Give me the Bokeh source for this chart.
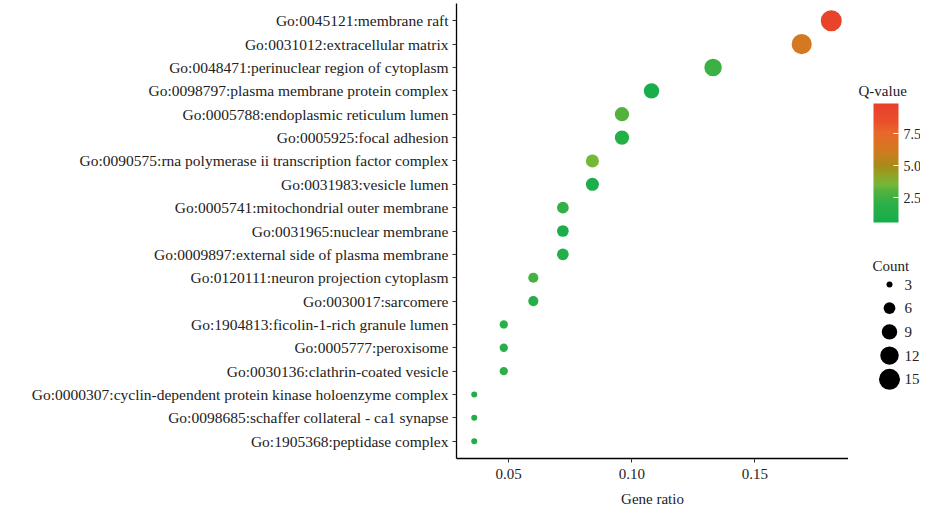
import numpy as np
from bokeh.plotting import figure
from bokeh.layouts import row
from bokeh.models import (FactorRange, Range1d, LinearColorMapper, ColorBar,
                          FixedTicker, ColumnDataSource, NumeralTickFormatter)
from bokeh.embed import file_html
from bokeh.resources import INLINE
from bokeh.core.properties import value

# ---------------- data ----------------
terms = [
    "Go:0045121:membrane raft",
    "Go:0031012:extracellular matrix",
    "Go:0048471:perinuclear region of cytoplasm",
    "Go:0098797:plasma membrane protein complex",
    "Go:0005788:endoplasmic reticulum lumen",
    "Go:0005925:focal adhesion",
    "Go:0090575:rna polymerase ii transcription factor complex",
    "Go:0031983:vesicle lumen",
    "Go:0005741:mitochondrial outer membrane",
    "Go:0031965:nuclear membrane",
    "Go:0009897:external side of plasma membrane",
    "Go:0120111:neuron projection cytoplasm",
    "Go:0030017:sarcomere",
    "Go:1904813:ficolin-1-rich granule lumen",
    "Go:0005777:peroxisome",
    "Go:0030136:clathrin-coated vesicle",
    "Go:0000307:cyclin-dependent protein kinase holoenzyme complex",
    "Go:0098685:schaffer collateral - ca1 synapse",
    "Go:1905368:peptidase complex",
]
gene_ratio = [0.181, 0.169, 0.133, 0.108, 0.096, 0.096, 0.084, 0.084, 0.072,
              0.072, 0.072, 0.060, 0.060, 0.048, 0.048, 0.048, 0.036, 0.036, 0.036]
counts = [15, 14, 11, 9, 8, 8, 7, 7, 6, 6, 6, 5, 5, 4, 4, 4, 3, 3, 3]
qvalues = [9.5, 6.3, 2.4, 0.8, 3.0, 1.5, 3.5, 1.0, 2.2, 1.0, 1.4, 2.6, 1.5,
           1.8, 1.8, 2.0, 1.2, 1.2, 1.2]
legend_counts = [3, 6, 9, 12, 15]
cbar_ticks = [2.5, 5.0, 7.5]
x_ticks = [0.05, 0.10, 0.15]

FONT = "Liberation Serif"
TXT = "#222222"

# ---------------- colour palette (green -> olive -> orange -> red) ----------------
Q_LOW, Q_HIGH = 0.55, 9.85
stop_vals = [0.55, 2.0, 3.0, 3.5, 4.2, 5.0, 6.2, 7.5, 8.5, 9.85]
stop_cols = ["#16ad4b", "#2bb048", "#55b13e", "#74b838", "#8fa526", "#a88b1a",
             "#d27a20", "#e8692a", "#ea4e2c", "#e8402b"]

def _hex2rgb(h):
    h = h.lstrip("#")
    return [int(h[i:i + 2], 16) for i in (0, 2, 4)]

_rgb = np.array([_hex2rgb(c) for c in stop_cols], float)
_vals = np.linspace(Q_LOW, Q_HIGH, 256)
palette = ["#%02x%02x%02x" % tuple(int(round(np.interp(v, stop_vals, _rgb[:, k])))
                                   for k in range(3)) for v in _vals]
mapper = LinearColorMapper(palette=palette, low=Q_LOW, high=Q_HIGH)

# ---------------- size scale (area-linear, like ggplot) ----------------
D_MIN, D_MAX, C_MIN, C_MAX = 6.0, 21.0, 3, 15
def size_scale(c):
    c = np.asarray(c, float)
    return np.sqrt(D_MIN ** 2 + (c - C_MIN) / (C_MAX - C_MIN) * (D_MAX ** 2 - D_MIN ** 2))

src = ColumnDataSource(dict(term=terms, ratio=gene_ratio, q=qvalues,
                            size=size_scale(counts)))

# ---------------- main plot ----------------
H = 509
FR_LEFT, FR_RIGHT, FR_TOP, FR_BOTTOM = 456, 848, 3, 458
p = figure(width=FR_RIGHT, height=H, output_backend="svg", toolbar_location=None,
           y_range=FactorRange(*terms[::-1], range_padding=0.24,
                               range_padding_units="absolute"),
           x_range=Range1d(0.0288, 0.188),
           min_border_left=FR_LEFT, min_border_right=0, min_border_top=FR_TOP,
           min_border_bottom=H - FR_BOTTOM)
p.outline_line_color = None
p.xgrid.visible = False
p.ygrid.visible = False
p.background_fill_color = "white"

p.scatter(x="ratio", y="term", size="size", source=src,
          fill_color={"field": "q", "transform": mapper}, line_color=None)

for ax in (p.xaxis[0], p.yaxis[0]):
    ax.axis_line_color = "black"
    ax.axis_line_width = 1.3
    ax.major_tick_line_color = "#333333"
    ax.major_tick_out = 4
    ax.major_tick_in = 0
    ax.minor_tick_line_color = None
    ax.major_label_text_font = FONT
    ax.major_label_text_color = TXT
p.yaxis.major_label_text_font_size = "15.5px"
p.xaxis.major_label_text_font_size = "15px"
p.yaxis.major_label_standoff = 4
p.xaxis.ticker = FixedTicker(ticks=x_ticks)
p.xaxis.formatter = NumeralTickFormatter(format="0.00")
p.xaxis.major_label_standoff = 6
p.xaxis.axis_label = "Gene ratio"
p.xaxis.axis_label_text_font = FONT
p.xaxis.axis_label_text_font_size = "15px"
p.xaxis.axis_label_text_font_style = "normal"
p.xaxis.axis_label_text_color = TXT
p.xaxis.axis_label_standoff = 9

# ---------------- legend panel (data coords == picture pixels) ----------------
LW = 920 - FR_RIGHT
lp = figure(width=LW, height=H, output_backend="svg", toolbar_location=None,
            x_range=Range1d(FR_RIGHT, 920), y_range=Range1d(FR_BOTTOM, FR_TOP),
            min_border=0, min_border_top=FR_TOP, min_border_bottom=H - FR_BOTTOM)
lp.xaxis.visible = False
lp.yaxis.visible = False
lp.xgrid.visible = False
lp.ygrid.visible = False
lp.outline_line_color = None

lp.text(x=[858], y=[90], text=["Q-value"], text_font=value(FONT),
        text_font_size="15px", text_baseline="middle", text_color=TXT)

CB_LEFT, CB_TOP, CB_BOTTOM = 873, 103, 222
cb = ColorBar(color_mapper=mapper, ticker=FixedTicker(ticks=cbar_ticks),
              formatter=NumeralTickFormatter(format="0.0"),
              width=25, height=CB_BOTTOM - CB_TOP,
              location=(CB_LEFT - FR_RIGHT, FR_BOTTOM - CB_BOTTOM), padding=0,
              major_label_text_font=FONT, major_label_text_font_size="14px",
              major_label_text_color=TXT, major_tick_line_color="white",
              major_tick_in=5, bar_line_color=None, background_fill_alpha=0,
              border_line_color=None, label_standoff=5)
lp.add_layout(cb)

lp.text(x=[872], y=[265], text=["Count"], text_font=value(FONT),
        text_font_size="15px", text_baseline="middle", text_color=TXT)
leg_y = 284 + 23.7 * np.arange(len(legend_counts))
lsrc = ColumnDataSource(dict(x=[889] * len(legend_counts), y=leg_y,
                             size=size_scale(legend_counts),
                             lab=[str(c) for c in legend_counts],
                             tx=[904] * len(legend_counts)))
lp.scatter(x="x", y="y", size="size", source=lsrc, fill_color="black",
           line_color=None)
lp.text(x="tx", y="y", text="lab", source=lsrc, text_font=value(FONT),
        text_font_size="15px", text_baseline="middle", text_color=TXT)

layout = row(p, lp)
open("out.html", "w").write(file_html(layout, INLINE))
